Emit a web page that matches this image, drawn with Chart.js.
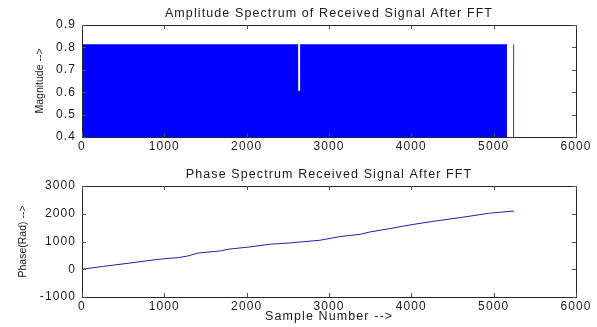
<!DOCTYPE html>
<html>
<head>
<meta charset="utf-8">
<script src="https://cdn.jsdelivr.net/npm/chart.js@4.4.1/dist/chart.umd.min.js"></script>
<style>
  body { margin: 0; background: #fff; }
  #wrap { position: relative; width: 597px; height: 327px; }
  .box { position: absolute; left: 0; width: 597px; }
</style>
</head>
<body>
<div id="wrap">
  <div class="box" style="top:0;height:163px"><canvas id="amp"></canvas></div>
  <div class="box" style="top:163px;height:164px"><canvas id="phase"></canvas></div>
</div>
<script>
// amplitude spectrum (dense |FFT| samples shown as their envelope)
var ampIndex = [0, 2625, 2626, 2648, 2649, 5162, 5163, 5237, 5238, 5250, 5251];
var ampValue = [0.814, 0.814, 0.607, 0.607, 0.814, 0.814, 0, 0, 0.814, 0.814, 0];

// unwrapped phase
var phaseIndex = [0, 250, 560, 800, 1000, 1170, 1290, 1410, 1680, 1770, 2040, 2280, 2530, 2890, 3130, 3380, 3500, 3750, 3980, 4250, 4590, 4950, 5250];
var phaseValue = [0, 100, 215, 310, 380, 420, 480, 585, 660, 720, 805, 900, 950, 1045, 1175, 1260, 1345, 1470, 1595, 1720, 1860, 2020, 2100];

var sampleTicks = [0, 6000, 1000];      // min, max, step
var magTicks = [0.4, 0.9, 0.1];
var phaseTicks = [-1000, 3000, 1000];

var font = "'Liberation Sans', Arial, Helvetica, sans-serif";
var ink = '#1a1a1a';

// matlab style box with inward ticks, letter spacing for titles/ticks
var matlabAxes = {
  id: 'matlabAxes',
  beforeDraw: function(chart) {
    chart.ctx.letterSpacing = '1.1px';
  },
  afterDatasetsDraw: function(chart) {
    chart.ctx.letterSpacing = '0px';
  },
  afterDraw: function(chart) {
    var ctx = chart.ctx, a = chart.chartArea;
    var sx = chart.scales.x, sy = chart.scales.y;
    var l = Math.round(a.left), t = Math.round(a.top), r = Math.round(a.right), b = Math.round(a.bottom);

    ctx.save();
    ctx.strokeStyle = '#262626';
    ctx.lineWidth = 1;
    ctx.strokeRect(l + 0.5, t + 0.5, r - l, b - t);
    ctx.restore();

    ctx.save();
    ctx.strokeStyle = '#505050';
    ctx.lineWidth = 1;
    ctx.beginPath();
    sx.ticks.forEach(function(tk) {
      var p = Math.round(sx.getPixelForValue(tk.value)) + 0.5;
      ctx.moveTo(p, b); ctx.lineTo(p, b - 4);
      ctx.moveTo(p, t); ctx.lineTo(p, t + 4);
    });
    sy.ticks.forEach(function(tk) {
      var p = Math.round(sy.getPixelForValue(tk.value)) + 0.5;
      ctx.moveTo(l, p); ctx.lineTo(l + 4, p);
      ctx.moveTo(r, p); ctx.lineTo(r - 4, p);
    });
    ctx.stroke();
    ctx.restore();
  }
};

function xScale(height, title) {
  return {
    type: 'linear',
    min: sampleTicks[0], max: sampleTicks[1],
    grid: { display: false, drawTicks: false },
    border: { display: false },
    ticks: {
      stepSize: sampleTicks[2], autoSkip: false, maxRotation: 0, padding: 2,
      color: ink, font: { family: font, size: 12 },
      callback: function(v) { return String(v); }
    },
    title: title ? {
      display: true, text: title, color: ink,
      font: { family: font, size: 12.5 }, padding: { top: 0, bottom: 2.8 }
    } : { display: false },
    afterFit: function(s) { s.height = height; }
  };
}

function yScale(t, label, labelPad, fmt) {
  return {
    min: t[0], max: t[1],
    grid: { display: false, drawTicks: false, z: 1 },
    border: { display: false },
    ticks: {
      stepSize: t[2], padding: 6, color: ink,
      font: { family: font, size: 12 },
      callback: fmt
    },
    title: {
      display: true, text: label, color: ink,
      font: { family: font, size: 10.5 }, padding: { top: labelPad, bottom: 0 }
    },
    afterFit: function(s) { s.width = 82; }
  };
}

function titleOpts(text, padTop, padBottom) {
  return {
    display: true, text: text, fullSize: false, color: ink,
    font: { family: font, size: 12.5, weight: 'normal', lineHeight: 1.2 },
    padding: { top: padTop, bottom: padBottom }
  };
}

new Chart(document.getElementById('amp'), {
  type: 'line',
  data: {
    datasets: [{
      data: ampIndex.map(function(x, i) { return { x: x, y: ampValue[i] }; }),
      borderWidth: 0,
      pointRadius: 0,
      backgroundColor: '#0000ff',
      fill: 'start',
      tension: 0,
      clip: 0
    }]
  },
  options: {
    responsive: true,
    maintainAspectRatio: false,
    animation: false,
    layout: { padding: { left: 0, right: 21, top: 0, bottom: 0 } },
    plugins: {
      legend: { display: false },
      tooltip: { enabled: false },
      title: titleOpts('Amplitude Spectrum of Received Signal After FFT', 6.5, 3.5)
    },
    scales: {
      x: xScale(26, null),
      y: yScale(magTicks, 'Magnitude -->', 33.7, function(v) { return v.toFixed(1); })
    }
  },
  plugins: [matlabAxes]
});

new Chart(document.getElementById('phase'), {
  type: 'line',
  data: {
    datasets: [{
      data: phaseIndex.map(function(x, i) { return { x: x, y: phaseValue[i] }; }),
      borderColor: '#2020a8',
      borderWidth: 1,
      pointRadius: 0,
      fill: false,
      tension: 0
    }]
  },
  options: {
    responsive: true,
    maintainAspectRatio: false,
    animation: false,
    layout: { padding: { left: 0, right: 21, top: 0, bottom: 0 } },
    plugins: {
      legend: { display: false },
      tooltip: { enabled: false },
      title: titleOpts('Phase Spectrum Received Signal After FFT', 4.5, 3.5)
    },
    scales: {
      x: xScale(30, 'Sample Number -->'),
      y: yScale(phaseTicks, 'Phase(Rad) -->', 16.5, function(v) { return String(v); })
    }
  },
  plugins: [matlabAxes]
});
</script>
</body>
</html>
